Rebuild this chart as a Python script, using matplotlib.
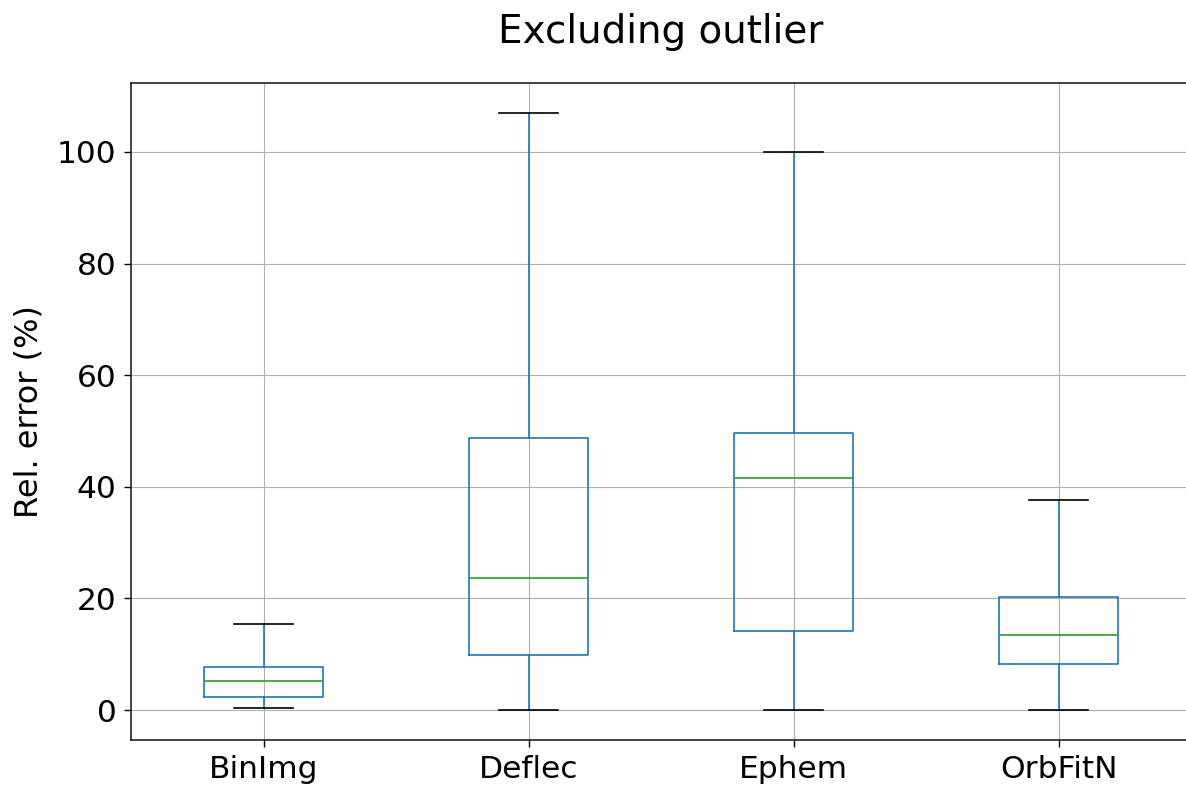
import matplotlib
matplotlib.use("Agg")
import matplotlib.pyplot as plt

# Summary statistics of relative error per method (percent)
methods = ["BinImg", "Deflec", "Ephem", "OrbFitN"]
whisker_low = [0.3, 0.0, 0.0, 0.0]
q1 = [2.3, 9.9, 14.2, 8.3]
median = [5.2, 23.7, 41.5, 13.5]
q3 = [7.7, 48.8, 49.6, 20.3]
whisker_high = [15.4, 107.0, 100.0, 37.7]

stats = [
    {"label": m, "whislo": lo, "q1": a, "med": md, "q3": b, "whishi": hi, "fliers": []}
    for m, lo, a, md, b, hi in zip(methods, whisker_low, q1, median, q3, whisker_high)
]

fig = plt.figure(figsize=(11.86, 7.87), dpi=100)
ax = fig.add_axes([131 / 1186, 47 / 787, 1060 / 1186, 657 / 787])

ax.bxp(
    stats,
    widths=0.45,
    showfliers=False,
    boxprops=dict(color="#1f77b4", linewidth=1.2),
    whiskerprops=dict(color="#1f77b4", linewidth=1.2),
    capprops=dict(color="black", linewidth=1.2),
    medianprops=dict(color="#2ca02c", linewidth=1.2),
)
ax.grid(True, color="#b0b0b0", linewidth=0.8)
ax.set_axisbelow(True)
ax.set_xlim(0.5, 4.5)
for sp in ax.spines.values():
    sp.set_linewidth(1.2)
    sp.set_color("#222222")
ax.set_ylabel("Rel. error (%)", fontsize=23, labelpad=9)
ax.tick_params(axis="both", labelsize=22.5, width=1.0, length=5, pad=5.5)
ax.set_title("Excluding outlier", fontsize=28, pad=29)

fig.savefig("out.png", dpi=100)
